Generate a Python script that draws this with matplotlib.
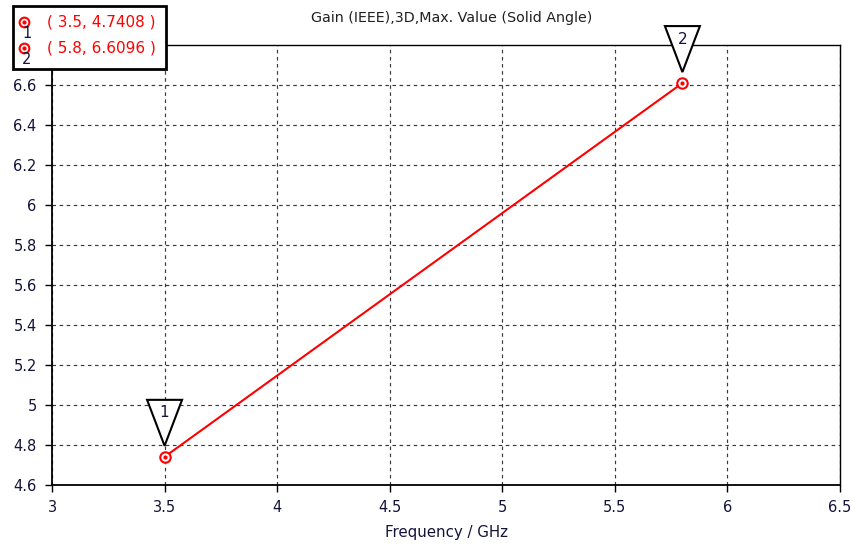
import matplotlib
matplotlib.use("Agg")
import matplotlib.pyplot as plt
from matplotlib.patches import Polygon, Rectangle
from matplotlib.transforms import ScaledTranslation

# data
freq = [3.5, 5.8]
gain = [4.7408, 6.6096]
marker_ids = ["1", "2"]
xticks = [3, 3.5, 4, 4.5, 5, 5.5, 6, 6.5]
yticks = [4.6, 4.8, 5, 5.2, 5.4, 5.6, 5.8, 6, 6.2, 6.4, 6.6]

W, H = 855, 544
plt.rcParams['font.family'] = ['DejaVu Sans']
fig = plt.figure(figsize=(W / 100, H / 100), dpi=100)
ax = fig.add_axes([52 / W, 1 - 485 / H, (840 - 52) / W, (485 - 45) / H])

ax.plot(freq, gain, color='red', linewidth=1.5, zorder=3)
ax.plot(freq, gain, linestyle='none', marker='o', markersize=7.5,
        markerfacecolor='white', markeredgecolor='red', markeredgewidth=1.5, zorder=4)
ax.plot(freq, gain, linestyle='none', marker='o', markersize=2,
        color='red', zorder=5)

ax.set_xlim(3, 6.5)
ax.set_ylim(4.6, 6.8)
ax.set_xticks(xticks)
ax.set_xticklabels(['%g' % t for t in xticks])
ax.set_yticks(yticks)
ax.set_yticklabels(['%g' % t for t in yticks])
ax.grid(True, color='#3a3a3a', linestyle=(0, (3, 3)), linewidth=0.85)
ax.tick_params(direction='out', length=5, width=1, color='black',
               labelsize=10.5, labelcolor='#14143a', pad=6)
for s in ax.spines.values():
    s.set_color('black')
    s.set_linewidth(1)
ax.spines['left'].set_linewidth(1.3)
ax.spines['bottom'].set_linewidth(1.3)

# triangle marker flags above the points
for x, y, lab in zip(freq, gain, marker_ids):
    tr = fig.dpi_scale_trans + ScaledTranslation(x, y, ax.transData)
    tri = Polygon([(0, 0.11), (-0.175, 0.57), (0.175, 0.57)], closed=True,
                  facecolor='white', edgecolor='black', linewidth=1.5,
                  transform=tr, zorder=6, clip_on=False)
    ax.add_patch(tri)
    ax.text(0, 0.44, lab, transform=tr, ha='center', va='center',
            fontsize=11, color='#14143a', zorder=7)

fig.text(452 / W, 1 - 18 / H, "Gain (IEEE),3D,Max. Value (Solid Angle)",
         ha='center', va='center', fontsize=10.3, color='#202020')
fig.text(446 / W, 1 - 532 / H, "Frequency / GHz",
         ha='center', va='center', fontsize=10.8, color='#14143a')

# marker legend box, top left
box = Rectangle((13 / W, 1 - 69 / H), (166 - 13) / W, (69 - 6) / H,
                transform=fig.transFigure, facecolor='white', edgecolor='black',
                linewidth=2, zorder=10)
fig.add_artist(box)
for i, (x, y, lab) in enumerate(zip(freq, gain, marker_ids)):
    yy = 1 - (22 + 26 * i) / H
    fig.add_artist(plt.Line2D([24 / W], [yy], transform=fig.transFigure,
                              marker='o', markersize=7, markerfacecolor='white',
                              markeredgecolor='red', markeredgewidth=1.5, zorder=11))
    fig.add_artist(plt.Line2D([24 / W], [yy], transform=fig.transFigure,
                              marker='o', markersize=2, color='red', zorder=12))
    fig.text(27 / W, yy - 11 / H, lab, ha='center', va='center', fontsize=10.5,
             color='#14143a', zorder=12)
    fig.text(47 / W, yy, "( %g, %.4f )" % (x, y), ha='left', va='center',
             fontsize=11, color='red', zorder=12)

fig.savefig("out.png", dpi=100)
